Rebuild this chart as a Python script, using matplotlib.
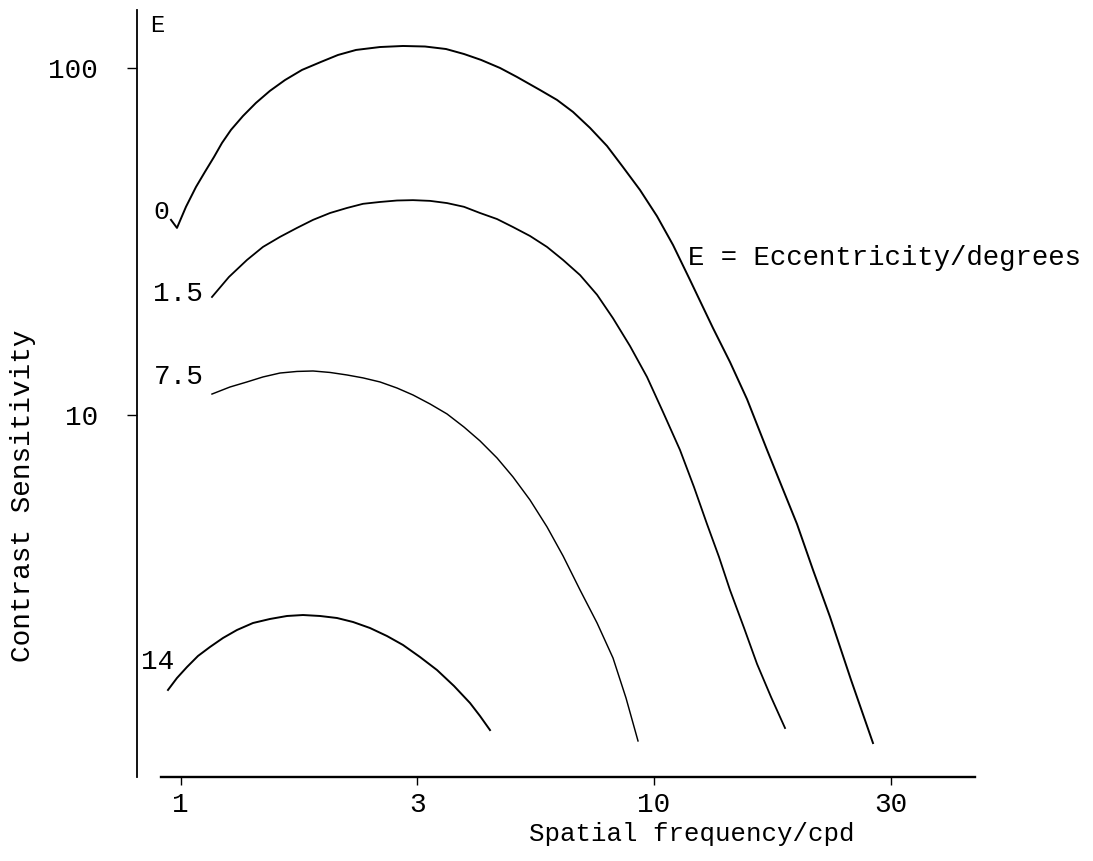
import matplotlib
matplotlib.use("Agg")
import matplotlib.pyplot as plt

# Spatial frequency (cpd) / contrast sensitivity
freq_e0 = [0.9544, 0.9826, 1.0266, 1.0778, 1.1259, 1.1765, 1.2231, 1.2777, 1.3545,
           1.4428, 1.5443, 1.6618, 1.8049, 1.9798, 2.1503, 2.3477, 2.6378, 2.9498,
           3.2833, 3.6362, 3.9689, 4.3112, 4.7285, 5.1356, 5.7435, 6.2388, 6.7439,
           7.3249, 7.9564, 8.6006, 9.342, 10.147, 10.969, 11.913, 13.324, 14.472,
           15.725, 17.33, 18.639, 20.048, 21.673, 23.539, 26.078, 29.012]
sens_e0 = [36.5, 34.6, 39.8, 45.4, 50.2, 55.4, 60.8, 66.3, 72.7,
           79.3, 85.9, 92.3, 98.7, 104.1, 109.0, 112.7, 114.9, 115.7,
           115.3, 113.4, 109.7, 105.5, 100.0, 94.2, 86.4, 80.9, 74.7,
           67.2, 59.6, 51.8, 44.5, 37.4, 30.9, 24.5, 17.8, 14.21,
           11.1, 7.93, 6.20, 4.85, 3.576, 2.62, 1.723, 1.134]

freq_e15 = [1.165, 1.2653, 1.3811, 1.4929, 1.6218, 1.7615, 1.9047, 2.069, 2.2469,
            2.4288, 2.6378, 2.865, 3.0967, 3.3641, 3.6539, 3.9689, 4.2903, 4.6601,
            5.0367, 5.471, 5.9428, 6.4263, 6.98, 7.5818, 8.1927, 8.8992, 9.6656,
            10.448, 11.347, 12.147, 12.941, 13.719, 14.472, 15.498, 16.508, 17.671,
            18.913]
sens_e15 = [21.88, 24.99, 27.97, 30.5, 32.6, 34.6, 36.5, 38.2, 39.5,
            40.6, 41.1, 41.5, 41.6, 41.4, 40.8, 39.8, 38.2, 36.7,
            34.8, 32.8, 30.5, 27.97, 25.3, 22.2, 19.0, 15.8, 12.87,
            10.2, 7.93, 6.2, 4.85, 3.898, 3.13, 2.433, 1.916, 1.539,
            1.253]

freq_e75 = [1.165, 1.2715, 1.3811, 1.4929, 1.6218, 1.7615, 1.9047, 2.069, 2.2469,
            2.4288, 2.6378, 2.865, 3.0967, 3.3641, 3.6539, 3.9689, 4.2903, 4.6601,
            5.0367, 5.471, 5.9428, 6.4263, 6.98, 7.5818, 8.1927, 8.7276, 9.2517]
sens_e75 = [11.49, 12.04, 12.45, 12.87, 13.21, 13.35, 13.39, 13.26, 13.04,
            12.79, 12.45, 11.96, 11.42, 10.76, 10.07, 9.23, 8.42, 7.52,
            6.63, 5.69, 4.76, 3.924, 3.13, 2.515, 1.994, 1.529, 1.15]

freq_e14 = [0.9406, 0.9826, 1.0316, 1.0884, 1.1537, 1.2291, 1.3155, 1.422, 1.5443,
            1.678, 1.8137, 1.9701, 2.1399, 2.3136, 2.5124, 2.729, 2.9498, 3.2044,
            3.4806, 3.7807, 4.087, 4.2903, 4.504]
sens_e14 = [1.613, 1.746, 1.878, 2.021, 2.145, 2.277, 2.401, 2.515, 2.583,
            2.635, 2.652, 2.635, 2.6, 2.532, 2.433, 2.307, 2.174, 2.007,
            1.841, 1.656, 1.479, 1.357, 1.236]

curve_labels = ["0", "1.5", "7.5", "14"]
xtick_vals = [1, 10 ** 0.5, 10, 10 ** 1.5]
xtick_labels = ["1", "3", "10", "30"]
ytick_vals = [10, 100]
ytick_labels = ["10", "100"]

FONT = ["Liberation Mono", "DejaVu Sans Mono"]
plt.rcParams['font.family'] = FONT

W, H = 1093, 861
fig = plt.figure(figsize=(W / 100, H / 100), dpi=100)
ax = fig.add_axes([137 / W, 1 - 777 / H, (975 - 137) / W, (777 - 10) / H])
ax.set_xscale('log')
ax.set_yscale('log')
ax.set_xlim(0.809, 47.65)
ax.set_ylim(0.9053, 146.9)

ax.plot(freq_e0, sens_e0, color='black', lw=1.4, solid_joinstyle='round')
ax.plot(freq_e15, sens_e15, color='black', lw=1.3, solid_joinstyle='round')
ax.plot(freq_e75, sens_e75, color='black', lw=1.05, solid_joinstyle='round')
ax.plot(freq_e14, sens_e14, color='black', lw=1.4, solid_joinstyle='round')

for s in ['top', 'right']:
    ax.spines[s].set_visible(False)
ax.spines['left'].set_linewidth(1.3)
ax.spines['bottom'].set_linewidth(1.7)
ax.spines['bottom'].set_bounds(0.9091, 47.65)

ax.set_xticks(xtick_vals)
ax.set_xticklabels(xtick_labels)
ax.set_yticks(ytick_vals)
ax.set_yticklabels(ytick_labels)
ax.minorticks_off()
ax.tick_params(axis='x', direction='out', length=6, width=1, labelsize=20, pad=5)
ax.tick_params(axis='y', direction='out', length=7, width=1, labelsize=20, pad=21)

ax.set_xlabel("Spatial frequency/cpd", fontsize=18.5)
ax.xaxis.set_label_coords((692 - 137) / 838, (777 - 834) / 767)
ax.xaxis.label.set_va('center')
ax.set_ylabel("Contrast Sensitivity", fontsize=20)
ax.yaxis.set_label_coords((23 - 137) / 838, (777 - 496) / 767)
ax.yaxis.label.set_va('center')
ax.yaxis.label.set_ha('center')

# curve labels, placed relative to the start of each curve
ax.annotate(curve_labels[0], (freq_e0[0], sens_e0[0]), xytext=(-7, 6),
            textcoords='offset points', ha='center', va='center', fontsize=19)
ax.annotate(curve_labels[1], (freq_e15[0], sens_e15[0]), xytext=(-24.5, 2.2),
            textcoords='offset points', ha='center', va='center', fontsize=20)
ax.annotate(curve_labels[2], (freq_e75[0], sens_e75[0]), xytext=(-23.8, 12.2),
            textcoords='offset points', ha='center', va='center', fontsize=20)
ax.annotate(curve_labels[3], (freq_e14[0], sens_e14[0]), xytext=(-7.2, 20.2),
            textcoords='offset points', ha='center', va='center', fontsize=20)

fig.text(157 / W, 1 - 26 / H, "E", ha='center', va='center', fontsize=17)
fig.text(688 / W, 1 - 258 / H, "E = Eccentricity/degrees", ha='left', va='center',
         fontsize=19.7)

fig.savefig("out.png", dpi=100)
